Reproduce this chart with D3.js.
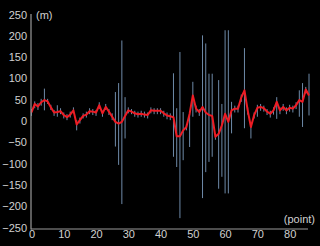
<!DOCTYPE html>
<html lang="en">
<head>
	<meta charset="UTF-8">
	<title>Chart</title>
	<script type="text/javascript" src="https://cdn.jsdelivr.net/npm/d3@7"></script>
	<style>
		body{ margin: 0; background: #000; }
		.tick text{ fill: #d0d0d0; font-family: "Liberation Sans", Arial, sans-serif; font-size: 11px; }
		.unit{ fill: #d0d0d0; font-family: "Liberation Sans", Arial, sans-serif; font-size: 11px; }
	</style>
</head>
<body>
<script type="text/javascript">
	// red line (mean) per point
	var values = [20, 40, 34, 44, 49, 46, 32, 20, 21, 23,
		14, 9, 15, 25, -8, 2, 12, 15, 23, 22,
		20, 37, 18, 33, 22, 10, -2, -6, -2, 12,
		25, 22, 18, 16, 17, 15, 14, 25, 24, 24,
		24, 18, 13, 11, 9, -36, -36, -22, -14, 17,
		60, 29, 21, 33, 20, 14, 12, -37, -30, -10,
		17, -2, 25, 29, 29, 55, 72, 25, -14, 14,
		31, 33, 30, 22, 17, 25, 45, 25, 33, 25,
		31, 29, 37, 49, 45, 74, 60];
	// vertical range lines (high / low) per point
	var highs = [28, 46, 42, 52, 76, 52, 38, 26, 37, 30,
		20, 16, 22, 32, 2, 8, 18, 22, 30, 28,
		26, 44, 24, 40, 28, 18, 68, 89, 189, 56,
		32, 28, 24, 22, 24, 22, 20, 32, 30, 30,
		30, 24, 20, 18, 112, 30, 162, 21, -8, 17,
		92, 36, 28, 201, 182, 111, 111, -30, 96, 40,
		213, 213, 45, 36, 36, 62, 171, 32, -6, 20,
		38, 40, 36, 28, 24, 32, 56, 32, 40, 32,
		38, 36, 44, 72, 89, 80, 111];
	var lows = [12, 30, 26, 36, 25, 40, 26, 12, 10, 16,
		6, 2, 8, 18, -22, -6, 6, 8, 16, 14,
		12, 28, 10, 26, 14, 2, -60, -103, -195, -41,
		18, 16, 10, 8, 10, 8, 6, 18, 16, 16,
		16, 10, 4, 2, -84, -108, -228, -92, -22, -61,
		10, 20, 12, -181, -120, -96, -84, -44, -159, -131,
		-170, -170, -29, 20, 20, 45, -17, 15, -41, 6,
		10, 24, 22, 14, 8, 15, 5, 16, 24, 16,
		22, 20, 28, 10, -14, 64, 13];
	var yTicks = [250, 200, 150, 100, 50, 0, -50, -100, -150, -200, -250];
	var xTicks = [0, 10, 20, 30, 40, 50, 60, 70, 80];

	var width = 320, height = 246;
	var svg = d3.select('body').append('svg')
		.attr('width', width)
		.attr('height', height)
		.style('background', '#000');

	var x = d3.scaleLinear().domain([0, 86]).range([31.5, 309]);
	var y = d3.scaleLinear().domain([-250, 250]).range([227.5, 14.5]);

	var idx = d3.range(values.length);

	// range lines
	svg.append('g').selectAll('line')
		.data(idx)
		.enter().append('line')
		.attr('x1', function(i){ return x(i); })
		.attr('x2', function(i){ return x(i); })
		.attr('y1', function(i){ return y(highs[i]); })
		.attr('y2', function(i){ return y(lows[i]); })
		.attr('stroke', '#6e8aa8')
		.attr('stroke-width', 1);

	var line = d3.line()
		.x(function(i){ return x(i); })
		.y(function(i){ return y(values[i]); });

	svg.append('path')
		.datum(idx)
		.attr('d', line)
		.attr('fill', 'none')
		.attr('stroke', '#ee1c24')
		.attr('stroke-width', 2)
		.attr('stroke-linejoin', 'round');

	// axes
	var yAxis = svg.append('g')
		.attr('transform', 'translate(31,0)')
		.call(d3.axisLeft(y).tickValues(yTicks).tickSize(0).tickPadding(4));
	yAxis.select('.domain').remove();

	var xAxis = svg.append('g')
		.attr('transform', 'translate(0,229)')
		.call(d3.axisBottom(x).tickValues(xTicks).tickSize(0).tickPadding(1));
	xAxis.select('.domain').remove();

	svg.append('line')
		.attr('x1', 31).attr('x2', 31)
		.attr('y1', 14).attr('y2', 229.5)
		.attr('stroke', '#9a9a9a').attr('stroke-width', 1.2);
	svg.append('line')
		.attr('x1', 31).attr('x2', 308)
		.attr('y1', 229).attr('y2', 229)
		.attr('stroke', '#9a9a9a').attr('stroke-width', 1.2);

	svg.append('text').attr('class', 'unit')
		.attr('x', 36).attr('y', 19)
		.text('(m)');
	svg.append('text').attr('class', 'unit')
		.attr('x', 315).attr('y', 223)
		.attr('text-anchor', 'end')
		.text('(point)');
</script>
</body>
</html>
